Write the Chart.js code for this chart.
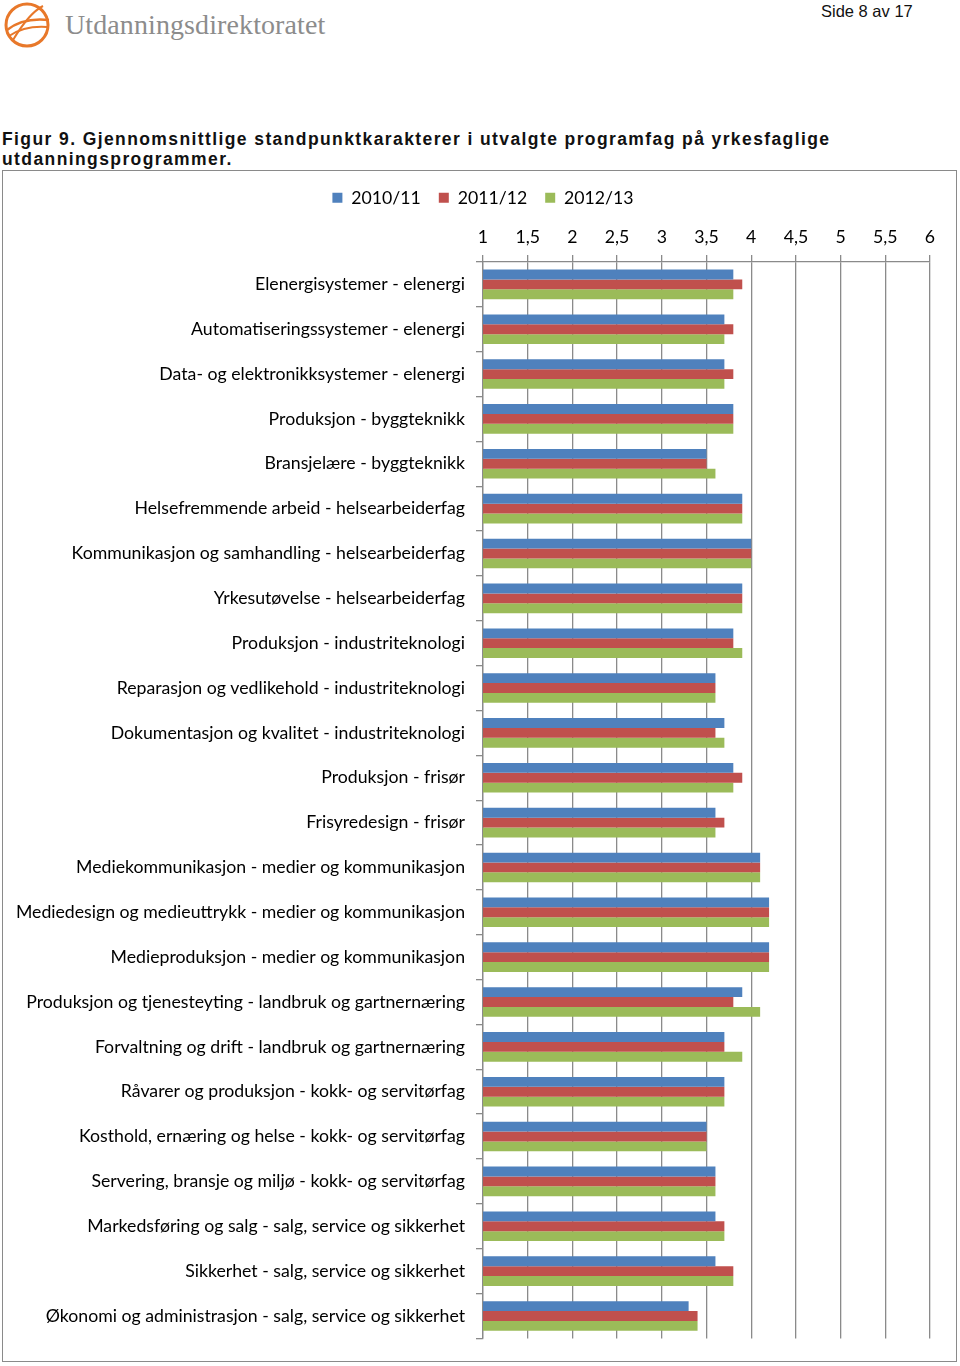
<!DOCTYPE html>
<html>
<head>
<meta charset="utf-8">
<script src="https://cdn.jsdelivr.net/npm/chart.js@4.4.1/dist/chart.umd.min.js"></script>
<style>
  body{margin:0;width:960px;height:1366px;position:relative;background:#fff;overflow:hidden;font-family:"Liberation Sans",Arial,sans-serif}
  #logo{position:absolute;left:3px;top:0px}
  #brand{position:absolute;left:65px;top:9px;font-family:"Liberation Serif",serif;font-size:28px;color:#8c8c8c;letter-spacing:0.1px}
  #page{position:absolute;left:821px;top:2px;font-size:16.5px;color:#111}
  #caption{position:absolute;left:2px;top:129px;font-size:17.5px;font-weight:bold;letter-spacing:1.4px;line-height:20px;color:#111;width:958px;white-space:nowrap}
  #box{position:absolute;left:2px;top:170px;width:953px;height:1190px;border:1.5px solid #8a8a8a}
  #wrap{position:absolute;left:0;top:170px;width:960px;height:1190px}
</style>
</head>
<body>
<svg id="logo" width="50" height="50" viewBox="0 0 50 50">
  <circle cx="24" cy="25" r="21" fill="none" stroke="#e8782a" stroke-width="3"/>
  <path d="M4 30 C 14 22, 28 18, 46 20" fill="none" stroke="#e8782a" stroke-width="2.5"/>
  <path d="M6 36 C 18 28, 30 26, 44 27" fill="none" stroke="#e8782a" stroke-width="2"/>
  <path d="M10 40 C 22 20, 32 10, 40 6" fill="none" stroke="#e8782a" stroke-width="2"/>
</svg>
<div id="brand">Utdanningsdirektoratet</div>
<div id="page">Side 8 av 17</div>
<div id="caption">Figur 9. Gjennomsnittlige standpunktkarakterer i utvalgte programfag på yrkesfaglige<br>utdanningsprogrammer.</div>
<div id="box"></div>
<div id="wrap"><canvas id="myChart"></canvas></div>
<script>
const categories = [
  "Elenergisystemer - elenergi",
  "Automatiseringssystemer - elenergi",
  "Data- og elektronikksystemer - elenergi",
  "Produksjon - byggteknikk",
  "Bransjelære - byggteknikk",
  "Helsefremmende arbeid - helsearbeiderfag",
  "Kommunikasjon og samhandling - helsearbeiderfag",
  "Yrkesutøvelse - helsearbeiderfag",
  "Produksjon - industriteknologi",
  "Reparasjon og vedlikehold - industriteknologi",
  "Dokumentasjon og kvalitet - industriteknologi",
  "Produksjon - frisør",
  "Frisyredesign - frisør",
  "Mediekommunikasjon - medier og kommunikasjon",
  "Mediedesign og medieuttrykk - medier og kommunikasjon",
  "Medieproduksjon - medier og kommunikasjon",
  "Produksjon og tjenesteyting - landbruk og gartnernæring",
  "Forvaltning og drift - landbruk og gartnernæring",
  "Råvarer og produksjon - kokk- og servitørfag",
  "Kosthold, ernæring og helse - kokk- og servitørfag",
  "Servering, bransje og miljø - kokk- og servitørfag",
  "Markedsføring og salg - salg, service og sikkerhet",
  "Sikkerhet - salg, service og sikkerhet",
  "Økonomi og administrasjon - salg, service og sikkerhet"
];
const seriesNames = ["2010/11", "2011/12", "2012/13"];
const values2010 = [3.8,3.7,3.7,3.8,3.5,3.9,4.0,3.9,3.8,3.6,3.7,3.8,3.6,4.1,4.2,4.2,3.9,3.7,3.7,3.5,3.6,3.6,3.6,3.3];
const values2011 = [3.9,3.8,3.8,3.8,3.5,3.9,4.0,3.9,3.8,3.6,3.6,3.9,3.7,4.1,4.2,4.2,3.8,3.7,3.7,3.5,3.6,3.7,3.8,3.4];
const values2012 = [3.8,3.7,3.7,3.8,3.6,3.9,4.0,3.9,3.9,3.6,3.7,3.8,3.6,4.1,4.2,4.2,4.1,3.9,3.7,3.5,3.6,3.7,3.8,3.4];
const xMin = 1, xMax = 6, xStep = 0.5;

const colors = ['#4f81bd', '#c0504d', '#9bbb59'];
const font = {family: 'Lato, "Open Sans", sans-serif', size: 17.7};

const data = {
  labels: categories,
  datasets: [values2010, values2011, values2012].map((vals, i) => ({
    label: seriesNames[i],
    data: vals,
    backgroundColor: colors[i],
    borderWidth: 0,
    barPercentage: 1,
    categoryPercentage: 0.66
  }))
};

// legend is centred on the whole box in the original, not on the chart width minus padding
const shiftLegend = {
  id: 'shiftLegend',
  afterLayout(chart) {
    chart.legend.left += 18;
    chart.legend.right += 18;
  }
};

new Chart(document.getElementById('myChart'), {
  type: 'bar',
  data: data,
  plugins: [shiftLegend],
  options: {
    indexAxis: 'y',
    responsive: true,
    maintainAspectRatio: false,
    animation: false,
    layout: {padding: {top: 1, right: 30, bottom: 9, left: 0}},
    plugins: {
      legend: {
        position: 'top',
        labels: {boxWidth: 10, boxHeight: 10, font: font, color: '#000', padding: 18}
      },
      tooltip: {enabled: false}
    },
    scales: {
      x: {
        position: 'top',
        min: xMin,
        max: xMax,
        ticks: {stepSize: xStep, font: font, color: '#000', padding: 7,
          callback: v => String(v).replace('.', ',')},
        grid: {color: '#8a8a8a', lineWidth: 1.3, tickLength: 7},
        border: {color: '#8a8a8a', width: 1.3},
        afterFit: s => { s.height += 3; }
      },
      y: {
        ticks: {font: font, color: '#000', padding: 11, autoSkip: false},
        grid: {drawOnChartArea: false, tickLength: 7, color: '#8a8a8a', lineWidth: 1.3, offset: true},
        border: {color: '#8a8a8a', width: 1.3},
        afterFit: s => { s.width = 483; }
      }
    }
  }
});
</script>
</body>
</html>
